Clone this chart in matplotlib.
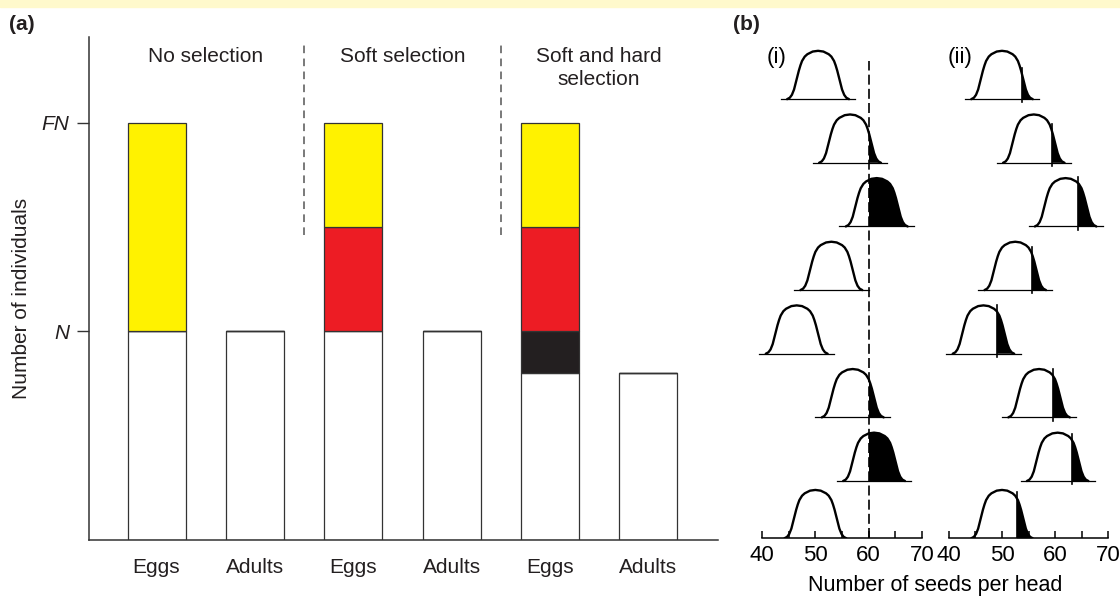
import numpy as np
import matplotlib.pyplot as plt
from matplotlib.patches import Rectangle

plt.rcParams['font.family'] = ['Liberation Sans', 'DejaVu Sans']

# ---- panel (a): numbers of individuals (N = 1, FN = 2) ----
stages = ['Eggs', 'Adults', 'Eggs', 'Adults', 'Eggs', 'Adults']
groups = ['No selection', 'Soft selection', 'Soft and hard\nselection']
survivors = [1.0, 1.0, 1.0, 1.0, 0.8, 0.8]     # white
hard_loss = [0.0, 0.0, 0.0, 0.0, 0.2, 0.0]     # black
soft_loss = [0.0, 0.0, 0.5, 0.0, 0.5, 0.0]     # red
surplus = [1.0, 0.0, 0.5, 0.0, 0.5, 0.0]       # yellow
ytick_vals = [1, 2]
ytick_labels = ['N', 'FN']

# ---- panel (b): seeds per head, 8 populations ----
means_i = [50.5, 56.5, 61.5, 53, 46.5, 57, 61, 50]
cut_i = 60
means_ii = [50, 56, 62, 52.5, 46.5, 57, 60.5, 50]
cuts_ii = [53.8, 59.4, 64.3, 55.6, 49, 59.6, 63.2, 52.8]
# shape of one distribution curve (offset from mean, relative height)
bell_dx = [-5.8, -5.3, -4.9, -4.5, -4.2, -3.9, -3.6, -3.3, -3.0, -2.5, -2.0, -1.0, 0.0,
           1.0, 2.0, 2.5, 3.0, 3.3, 3.6, 3.9, 4.2, 4.5, 4.9, 5.3, 5.8]
bell_h = [0.0, 0.03, 0.09, 0.2, 0.33, 0.46, 0.59, 0.7, 0.79, 0.88, 0.93, 0.985, 1.0,
          0.985, 0.93, 0.88, 0.79, 0.7, 0.59, 0.46, 0.33, 0.2, 0.09, 0.03, 0.0]

W, H = 1120, 596
ink = '#231f20'
fs = 15
fig = plt.figure(figsize=(W / 100, H / 100), dpi=100)
fig.patches.append(Rectangle((0, 1 - 7 / H), 1, 7 / H, transform=fig.transFigure,
                             color='#fff9cc', zorder=0))

# ================= panel (a) =================
ax = fig.add_axes([88.7 / W, (H - 540) / H, (718 - 88.7) / W, (540 - 37) / H])
x = np.arange(len(stages))
bottom = np.zeros(len(stages))
for vals, col in zip([survivors, hard_loss, soft_loss, surplus],
                     ['white', ink, '#ed1c24', '#fff200']):
    vals = np.array(vals)
    ax.bar(x, vals, 0.59, bottom=bottom, color=col, edgecolor='#333333', linewidth=0.9)
    bottom += vals

ax.set_xlim(-0.69, 5.71)
ax.set_ylim(0, 2.41)
for s in ['top', 'right']:
    ax.spines[s].set_visible(False)
for s in ['left', 'bottom']:
    ax.spines[s].set_color('#333333')
    ax.spines[s].set_linewidth(1.1)
ax.set_xticks(x, stages, fontsize=fs, color=ink)
ax.tick_params(axis='x', length=0, pad=13)
ax.set_yticks(ytick_vals, ytick_labels, fontsize=fs, fontstyle='italic', color=ink)
ax.tick_params(axis='y', length=9, width=1, color='#333333', pad=5)

for xd in [1.5, 3.5]:
    ax.plot([xd, xd], [1.46, 2.37], color='#555555', lw=1.1, ls=(0, (5, 3.5)))
for i, g in enumerate(groups):
    ax.text(2 * i + 0.5, 2.36, g, ha='center', va='top', fontsize=fs, color=ink,
            linespacing=1.25)

fig.text(22 / W, 1 - 298 / H, 'Number of individuals', rotation=90, ha='center',
         va='center', fontsize=fs, color=ink)
fig.text(9 / W, 1 - 25 / H, '(a)', ha='left', va='center', fontsize=fs,
         fontweight='bold', color=ink)
fig.text(733 / W, 1 - 25 / H, '(b)', ha='left', va='center', fontsize=fs,
         fontweight='bold', color=ink)

# ================= panel (b) =================
base_y = [7, 6, 5, 4, 3, 2, 1, 0.1]
peak = 0.76


def draw_column(axc, means, cuts, tick_lines):
    for k, (m, c) in enumerate(zip(means, cuts)):
        b = base_y[k]
        xs = m + np.array(bell_dx)
        ys = b + peak * np.array(bell_h)
        if k < len(means) - 1:
            axc.plot([m - 7, m + 7], [b, b], color='k', lw=0.9)
        poly = axc.fill(xs, ys, color='k', lw=0)[0]
        poly.set_clip_path(Rectangle((c, b - 0.2), 30, 2, transform=axc.transData))
        axc.plot(xs, ys, color='k', lw=1.7, solid_capstyle='round')
        if tick_lines:
            top = b + peak * np.interp(c - m, bell_dx, bell_h) + 0.1
            axc.plot([c, c], [b - 0.05, top], color='k', lw=1.2)


def style_column(axc):
    axc.set_xlim(37.5, 72.5)
    axc.set_ylim(0.1, 7.93)
    for s in ['top', 'right', 'left']:
        axc.spines[s].set_visible(False)
    axc.spines['bottom'].set_bounds(40, 70)
    axc.spines['bottom'].set_linewidth(1.1)
    axc.set_yticks([])
    axc.set_xticks([40, 50, 60, 70])
    axc.set_xticks([45, 55, 65], minor=True)
    axc.tick_params(axis='x', which='both', direction='in', length=5, width=1.1,
                    labelsize=16, pad=5)
    axc.patch.set_visible(False)


ax1 = fig.add_axes([748.7 / W, (H - 538.3) / H, 186.7 / W, 498.3 / H])
draw_column(ax1, means_i, [cut_i] * len(means_i), False)
ax1.plot([cut_i, cut_i], [0.1, 7.6], color='k', lw=1.2, ls=(0, (6, 2.5)))
style_column(ax1)

ax2 = fig.add_axes([935.75 / W, (H - 538.3) / H, 185.5 / W, 498.3 / H])
draw_column(ax2, means_ii, cuts_ii, True)
style_column(ax2)

fig.text(777 / W, 1 - 58 / H, '(i)', ha='center', va='center', fontsize=16)
fig.text(960 / W, 1 - 58 / H, '(ii)', ha='center', va='center', fontsize=16)
fig.text(935 / W, 1 - 585 / H, 'Number of seeds per head', ha='center', va='center',
         fontsize=15.5)

fig.savefig('out.png', dpi=100)
